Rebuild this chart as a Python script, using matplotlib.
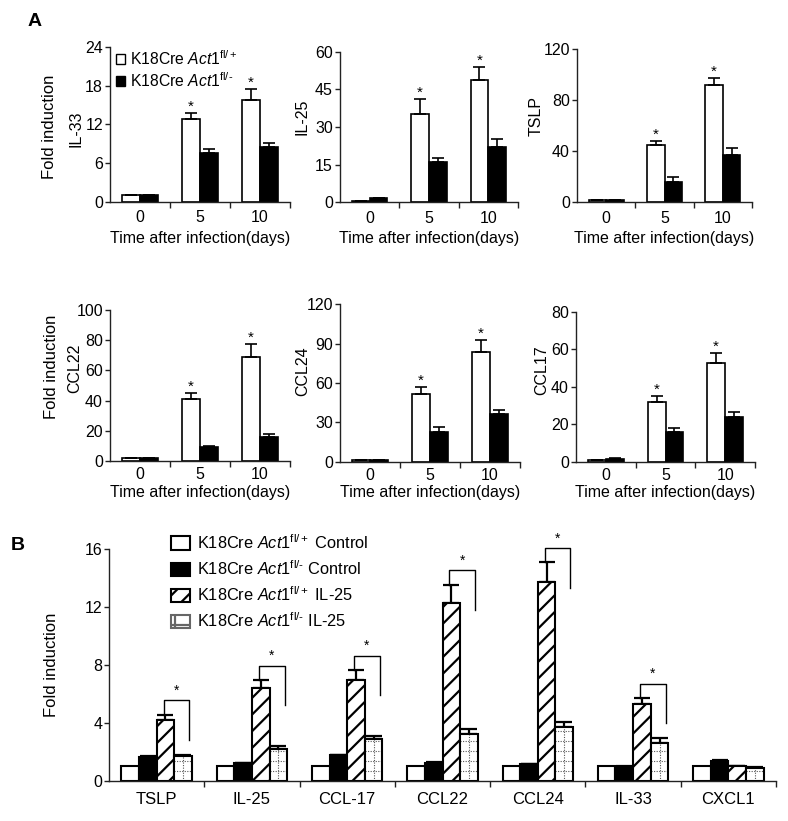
import matplotlib
matplotlib.use('Agg')
import matplotlib.pyplot as plt
from matplotlib.patches import Patch
import numpy as np

plt.rcParams['font.family'] = ['Liberation Sans', 'DejaVu Sans']
plt.rcParams['mathtext.fontset'] = 'custom'
plt.rcParams['mathtext.rm'] = 'Liberation Sans'
plt.rcParams['mathtext.it'] = 'Liberation Sans:italic'
plt.rcParams['mathtext.bf'] = 'Liberation Sans:bold'
plt.rcParams['hatch.linewidth'] = 1.6

# ---------------- data: panel A ----------------
days = ['0', '5', '10']
stars_a = [False, True, True]

il33_wt = [1.1, 12.8, 15.8]
il33_wt_err = [0.0, 1.0, 1.7]
il33_ko = [1.1, 7.5, 8.5]
il33_ko_err = [0.0, 0.6, 0.6]

il25_wt = [0.5, 35.2, 48.7]
il25_wt_err = [0.0, 6.0, 5.3]
il25_ko = [1.8, 15.9, 21.9]
il25_ko_err = [0.0, 1.6, 3.2]

tslp_wt = [1.5, 44.8, 91.8]
tslp_wt_err = [0.0, 3.2, 5.7]
tslp_ko = [1.5, 16.1, 36.8]
tslp_ko_err = [0.0, 3.5, 5.5]

ccl22_wt = [1.8, 41.3, 69.0]
ccl22_wt_err = [0.0, 3.9, 8.3]
ccl22_ko = [1.8, 9.0, 16.0]
ccl22_ko_err = [0.0, 1.0, 1.7]

ccl24_wt = [1.5, 51.4, 83.4]
ccl24_wt_err = [0.0, 5.8, 9.4]
ccl24_ko = [1.5, 22.9, 36.1]
ccl24_ko_err = [0.0, 3.8, 3.3]

ccl17_wt = [1.0, 31.7, 52.5]
ccl17_wt_err = [0.0, 3.3, 5.3]
ccl17_ko = [1.5, 16.0, 24.0]
ccl17_ko_err = [0.4, 1.8, 2.3]

# ---------------- data: panel B ----------------
genes = ['TSLP', 'IL-25', 'CCL-17', 'CCL22', 'CCL24', 'IL-33', 'CXCL1']
ctrl_wt = [1.0, 1.0, 1.0, 1.0, 1.0, 1.0, 1.0]
ctrl_ko = [1.65, 1.2, 1.75, 1.25, 1.15, 0.97, 1.35]
ctrl_ko_err = [0.03, 0.03, 0.03, 0.03, 0.03, 0.03, 0.07]
il25tr_wt = [4.2, 6.4, 6.96, 12.27, 13.72, 5.3, 1.0]
il25tr_wt_err = [0.35, 0.56, 0.69, 1.27, 1.38, 0.4, 0.03]
il25tr_ko = [1.7, 2.17, 2.88, 3.2, 3.69, 2.62, 0.85]
il25tr_ko_err = [0.07, 0.23, 0.2, 0.37, 0.39, 0.31, 0.06]
sig_b = [True, True, True, True, True, True, False]

W, H = 788, 821
fig = plt.figure(figsize=(W / 100, H / 100), dpi=100)


def add_ax(l, r, t, b):
    ax = fig.add_axes([l / W, 1 - b / H, (r - l) / W, (b - t) / H])
    for s in ['top', 'right']:
        ax.spines[s].set_visible(False)
    for s in ['left', 'bottom']:
        ax.spines[s].set_linewidth(1.0)
        ax.spines[s].set_color('#222222')
    return ax


def panel_a(ax, wt, wt_err, ko, ko_err, yticks, xpad):
    x = np.arange(len(days))
    w = 0.3
    ax.bar(x - w / 2, wt, w, color='white', edgecolor='black', linewidth=1.2, zorder=2)
    ax.bar(x + w / 2, ko, w, color='black', edgecolor='black', linewidth=1.2, zorder=2)
    z = np.zeros(len(days))
    ax.errorbar(x - w / 2, wt, yerr=[z, wt_err], fmt='none', ecolor='black',
                elinewidth=1.2, capsize=4.2, capthick=1.2, zorder=3)
    ax.errorbar(x + w / 2, ko, yerr=[z, ko_err], fmt='none', ecolor='black',
                elinewidth=1.2, capsize=4.2, capthick=1.2, zorder=1)
    for xi, v, e, s in zip(x - w / 2, wt, wt_err, stars_a):
        if s:
            ax.annotate('*', (xi, v + e), xytext=(0, 1.5), textcoords='offset points',
                        ha='center', va='baseline', fontsize=11, annotation_clip=False)
    ax.set_xlim(-0.5, 2.5)
    ax.set_ylim(0, yticks[-1])
    ax.set_xticks(x)
    ax.set_xticklabels(days, fontsize=11.5)
    ax.set_xticks([0.5, 1.5, 2.5], minor=True)
    ax.tick_params(axis='x', which='major', length=0, pad=xpad)
    ax.tick_params(axis='x', which='minor', length=4, width=1.0, direction='out', color='#222222')
    ax.set_yticks(yticks)
    ax.tick_params(axis='y', length=3.6, width=1.0, pad=1.5, labelsize=11.5, color='#222222')


# top row
a1 = add_ax(110, 290, 47, 201.7)
panel_a(a1, il33_wt, il33_wt_err, il33_ko, il33_ko_err, [0, 6, 12, 18, 24], 6)
a2 = add_ax(340, 518, 51.7, 202.3)
panel_a(a2, il25_wt, il25_wt_err, il25_ko, il25_ko_err, [0, 15, 30, 45, 60], 6)
a3 = add_ax(577, 752, 49, 202.3)
panel_a(a3, tslp_wt, tslp_wt_err, tslp_ko, tslp_ko_err, [0, 40, 80, 120], 6)
# bottom row
a4 = add_ax(110, 290, 310, 461)
panel_a(a4, ccl22_wt, ccl22_wt_err, ccl22_ko, ccl22_ko_err, [0, 20, 40, 60, 80, 100], 4.5)
a5 = add_ax(340, 520, 304.3, 461.7)
panel_a(a5, ccl24_wt, ccl24_wt_err, ccl24_ko, ccl24_ko_err, [0, 30, 60, 90, 120], 4.5)
a6 = add_ax(576, 755, 311.7, 461.7)
panel_a(a6, ccl17_wt, ccl17_wt_err, ccl17_ko, ccl17_ko_err, [0, 20, 40, 60, 80], 4.5)


def ftext(x, y, s, **kw):
    fig.text(x / W, 1 - y / H, s, ha='center', va='center', **kw)


ftext(35, 22, 'A', fontsize=14, fontweight='bold')
ftext(18, 545, 'B', fontsize=14, fontweight='bold')
ftext(49, 127, 'Fold induction', fontsize=12, rotation=90)
ftext(52, 367, 'Fold induction', fontsize=12, rotation=90)
ftext(76, 129, 'IL-33', fontsize=11.5, rotation=90)
ftext(302, 117, 'IL-25', fontsize=11.5, rotation=90)
ftext(536, 116, 'TSLP', fontsize=11.5, rotation=90)
ftext(75, 368, 'CCL22', fontsize=11.5, rotation=90)
ftext(303, 371, 'CCL24', fontsize=11.5, rotation=90)
ftext(542, 370, 'CCL17', fontsize=11.5, rotation=90)
for ax, yy in [(a1, 238), (a2, 238), (a3, 238), (a4, 492), (a5, 492), (a6, 492)]:
    bb = ax.get_position()
    ftext((bb.x0 + bb.x1) / 2 * W, yy, 'Time after infection(days)', fontsize=11.5)

HY = '\u2010'
lab_wt = r'K18Cre $\mathit{Act1}^{\mathrm{fl/+}}$'
lab_ko = r'K18Cre $\mathit{Act1}^{\mathrm{fl/' + HY + '}}$'
fig.legend(handles=[Patch(facecolor='white', edgecolor='black', linewidth=1.0),
                    Patch(facecolor='black', edgecolor='black', linewidth=1.0)],
           labels=[lab_wt, lab_ko], loc='upper left', bbox_to_anchor=(116 / W, 1 - 49 / H),
           frameon=False, fontsize=11.3, handlelength=0.6, handleheight=0.6,
           handletextpad=0.3, borderpad=0, borderaxespad=0, labelspacing=0.2)

# ---------------- panel B ----------------
axB = add_ax(109, 776, 549.3, 780.6)
xg = np.arange(len(genes))
bw = 0.185
offs = np.array([-1.5, -0.5, 0.5, 1.5]) * bw
zg = np.zeros(len(genes))
axB.bar(xg + offs[0], ctrl_wt, bw, color='white', edgecolor='black', linewidth=1.5, zorder=2)
axB.bar(xg + offs[1], ctrl_ko, bw, color='black', edgecolor='black', linewidth=1.5, zorder=2)
axB.bar(xg + offs[2], il25tr_wt, bw, color='white', edgecolor='black', hatch='//',
        linewidth=1.5, zorder=2)
dot_bars = axB.bar(xg + offs[3], il25tr_ko, bw, color='white', edgecolor='none',
                   linewidth=0, zorder=2)
for rect, h in zip(dot_bars, il25tr_ko):
    x0 = rect.get_x()
    x1 = x0 + rect.get_width()
    ys = np.arange(0.69, h, 0.69)
    axB.hlines(ys, x0, x1, colors='#555555', linestyles=(0, (1, 1.3)), linewidth=0.8, zorder=2.2)
    axB.vlines([(x0 + x1) / 2], 0, h, colors='#555555', linestyles=(0, (1, 1.3)),
               linewidth=0.8, zorder=2.2)
axB.bar(xg + offs[3], il25tr_ko, bw, color='none', edgecolor='black', linewidth=1.5, zorder=2.5)

for off, vals, errs in [(offs[1], ctrl_ko, ctrl_ko_err), (offs[2], il25tr_wt, il25tr_wt_err),
                        (offs[3], il25tr_ko, il25tr_ko_err)]:
    axB.errorbar(xg + off, vals, yerr=[zg, errs], fmt='none', ecolor='black',
                 elinewidth=1.6, capsize=5.5, capthick=1.6, zorder=1.5)

for i in range(len(genes)):
    if sig_b[i]:
        xl = xg[i] + offs[2] - 0.02
        xr = xg[i] + offs[3] + 0.065
        y0 = il25tr_wt[i] + il25tr_wt_err[i]
        yt = y0 + 1.0
        yr = yt - 2.75
        axB.plot([xl, xl, xr, xr], [y0, yt, yt, yr], color='black', linewidth=1.0,
                 zorder=3, clip_on=False)
        axB.annotate('*', ((xl + xr) / 2, yt), xytext=(0, 4), textcoords='offset points',
                     ha='center', va='baseline', fontsize=10, annotation_clip=False)

axB.set_xlim(-0.5, 6.5)
axB.set_ylim(0, 16)
axB.set_xticks(xg)
axB.set_xticklabels(genes, fontsize=12)
axB.set_xticks(np.arange(0.5, 7, 1.0), minor=True)
axB.tick_params(axis='x', which='major', length=0, pad=8)
axB.tick_params(axis='x', which='minor', length=4, width=1.0, direction='out', color='#222222')
axB.set_yticks([0, 4, 8, 12, 16])
axB.tick_params(axis='y', length=3.6, width=1.0, pad=1.2, labelsize=11.5, color='#222222')
ftext(52, 665, 'Fold induction', fontsize=12, rotation=90)

hb = [Patch(facecolor='white', edgecolor='black', linewidth=1.5),
      Patch(facecolor='black', edgecolor='black', linewidth=1.5),
      Patch(facecolor='white', edgecolor='black', hatch='//', linewidth=1.5),
      Patch(facecolor='white', edgecolor='#666666', hatch='+', linewidth=1.5)]
lb = [lab_wt + ' Control', lab_ko + ' Control', lab_wt + ' IL-25', lab_ko + ' IL-25']
fig.legend(handles=hb, labels=lb, loc='upper left', bbox_to_anchor=(171 / W, 1 - 533 / H),
           frameon=False, fontsize=11.8, handlelength=1.15, handleheight=0.85,
           handletextpad=0.45, borderpad=0, borderaxespad=0, labelspacing=0.45)

fig.savefig('out.png', dpi=100)
